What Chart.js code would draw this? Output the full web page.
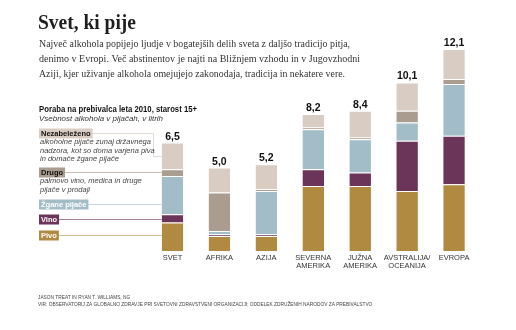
<!DOCTYPE html>
<html>
<head>
<meta charset="utf-8">
<script src="https://cdn.jsdelivr.net/npm/chart.js@4/dist/chart.umd.min.js"></script>
<style>
  html, body { margin: 0; padding: 0; background: #fff; }
  #wrap { width: 516px; height: 330px; position: relative; }
</style>
</head>
<body>
<div id="wrap"><canvas id="chart" width="516" height="330"></canvas></div>
<script>
// regions and per-drink consumption, litres of pure alcohol per person (15+), 2010
const regions = [['SVET'], ['AFRIKA'], ['AZIJA'], ['SEVERNA', 'AMERIKA'], ['JUŽNA', 'AMERIKA'], ['AVSTRALIJA/', 'OCEANIJA'], ['EVROPA']];
const totals = [6.5, 5.0, 5.2, 8.2, 8.4, 10.1, 12.1];
const pivo  = [1.7, 0.9, 0.9, 3.9, 3.9, 3.6, 4.0];
const vino  = [0.5, 0.1, 0.1, 1.0, 0.8, 3.0, 2.9];
const zgane = [2.3, 0.2, 2.6, 2.4, 2.0, 1.1, 3.1];
const drugo = [0.4, 2.3, 0.1, 0.1, 0.1, 0.7, 0.3];
const nezab = [1.6, 1.5, 1.5, 0.8, 1.6, 1.7, 1.8];

const seriesNames = ['Pivo', 'Vino', 'Žgane pijače', 'Drugo', 'Nezabeleženo'];
const seriesData = [pivo, vino, zgane, drugo, nezab];
const notes = {
  'Nezabeleženo': ['alkoholne pijače zunaj državnega', 'nadzora, kot so doma varjena piva', 'in domače žgane pijače'],
  'Drugo': ['palmovo vino, medica in druge', 'pijače v prodaji']
};

const colors = ['#b08a40', '#6b3559', '#a3bdc8', '#aa9c8f', '#d9cdc3'];
const lineColors = ['#d4bd8e', '#a6809a', '#c7d7dd', '#c9bfb5', '#e3dad2'];
const labelInk = ['#fff', '#fff', '#fff', '#111', '#111'];
// legend label centre lines, in drawing order bottom to top
const legendY = [235, 219, 204, 172, 133];

const SANS = '"Liberation Sans", Arial, sans-serif';
const SERIF = '"Liberation Serif", "DejaVu Serif", serif';
const fmt = v => v.toFixed(1).replace('.', ',');

const decor = {
  id: 'decor',
  beforeDatasetsDraw(chart) {
    const ctx = chart.ctx;
    const meta = chart.getDatasetMeta(0);
    const bar = meta.data[0];
    const left = bar.x - bar.width / 2;
    const y = chart.scales.y;
    ctx.save();
    ctx.lineWidth = 1;
    ctx.font = 'bold 7.5px ' + SANS;
    let base = 0;
    seriesNames.forEach((name, i) => {
      const v = seriesData[i][0];
      const ly = legendY[i] + 0.5;
      const w = ctx.measureText(name).width + 4;
      ctx.strokeStyle = lineColors[i];
      ctx.beginPath();
      ctx.moveTo(39 + w, ly);
      if (name === 'Nezabeleženo') {
        const mid = Math.round(y.getPixelForValue(base + v / 2)) + 0.5;
        ctx.lineTo(153.5, ly);
        ctx.lineTo(153.5, mid);
        ctx.lineTo(left, mid);
      } else {
        ctx.lineTo(left, ly);
      }
      ctx.stroke();
      base += v;
    });
    ctx.restore();
  },
  afterDraw(chart) {
    const ctx = chart.ctx;
    const x = chart.scales.x;
    const y = chart.scales.y;
    ctx.save();

    // heading and intro
    ctx.fillStyle = '#1e1e1e';
    ctx.textBaseline = 'alphabetic';
    ctx.font = 'bold 21px ' + SERIF;
    ctx.fillText('Svet, ki pije', 38, 29, 98);
    ctx.fillStyle = '#333';
    ctx.font = '10.5px ' + SERIF;
    ctx.fillText('Največ alkohola popijejo ljudje v bogatejših delih sveta z daljšo tradicijo pitja,', 39, 47, 311);
    ctx.fillText('denimo v Evropi. Več abstinentov je najti na Bližnjem vzhodu in v Jugovzhodni', 39, 62, 321);
    ctx.fillText('Aziji, kjer uživanje alkohola omejujejo zakonodaja, tradicija in nekatere vere.', 39, 76.5, 306);

    // chart heading
    ctx.fillStyle = '#111';
    ctx.font = 'bold 8.5px ' + SANS;
    ctx.fillText('Poraba na prebivalca leta 2010, starost 15+', 39, 111.5, 158);
    ctx.fillStyle = '#333';
    ctx.font = 'italic 8px ' + SANS;
    ctx.fillText('Vsebnost alkohola v pijačah, v litrih', 39, 121, 124);

    // legend labels
    ctx.textBaseline = 'middle';
    seriesNames.forEach((name, i) => {
      ctx.font = 'bold 7.5px ' + SANS;
      const w = ctx.measureText(name).width + 4;
      ctx.fillStyle = colors[i];
      ctx.fillRect(39, legendY[i] - 4.5, w, 10);
      ctx.fillStyle = labelInk[i];
      ctx.fillText(name, 41, legendY[i] + 0.5);
      (notes[name] || []).forEach((t, k) => {
        ctx.fillStyle = '#444';
        ctx.font = 'italic 7.5px ' + SANS;
        ctx.fillText(t, 40, legendY[i] + 9 + k * 8.7);
      });
    });

    // totals above bars, region names below
    ctx.textAlign = 'center';
    ctx.textBaseline = 'alphabetic';
    regions.forEach((r, i) => {
      const cx = x.getPixelForValue(i);
      ctx.fillStyle = '#111';
      ctx.font = 'bold 10.5px ' + SANS;
      ctx.fillText(fmt(totals[i]), cx, y.getPixelForValue(totals[i]) - 3);
      ctx.fillStyle = '#333';
      ctx.font = '7.5px ' + SANS;
      r.forEach((line, k) => ctx.fillText(line, cx, 260 + k * 7.5));
    });

    // credits
    ctx.textAlign = 'left';
    ctx.fillStyle = '#444';
    ctx.font = '4.8px ' + SANS;
    ctx.fillText('JASON TREAT IN RYAN T. WILLIAMS, NG', 38, 299);
    ctx.fillText('VIR: OBSERVATORIJ ZA GLOBALNO ZDRAVJE PRI SVETOVNI ZDRAVSTVENI ORGANIZACIJI; ODDELEK ZDRUŽENIH NARODOV ZA PREBIVALSTVO', 38, 305.5, 345);
    ctx.restore();
  }
};

new Chart(document.getElementById('chart'), {
  type: 'bar',
  data: {
    labels: regions,
    datasets: seriesNames.map((name, i) => ({
      label: name,
      data: seriesData[i],
      backgroundColor: colors[i],
      borderColor: 'rgba(255,255,255,0.3)',
      borderWidth: { top: 1, right: 0, bottom: 0, left: 0 },
      borderSkipped: false,
      barPercentage: 0.46,
      categoryPercentage: 1
    }))
  },
  options: {
    responsive: false,
    animation: false,
    layout: { padding: { left: 149, right: 38.5, top: 34, bottom: 79 } },
    plugins: { legend: { display: false }, tooltip: { enabled: false } },
    scales: {
      x: { stacked: true, display: false },
      y: { stacked: true, display: false, min: 0, max: 13 }
    }
  },
  plugins: [decor]
});
</script>
</body>
</html>
